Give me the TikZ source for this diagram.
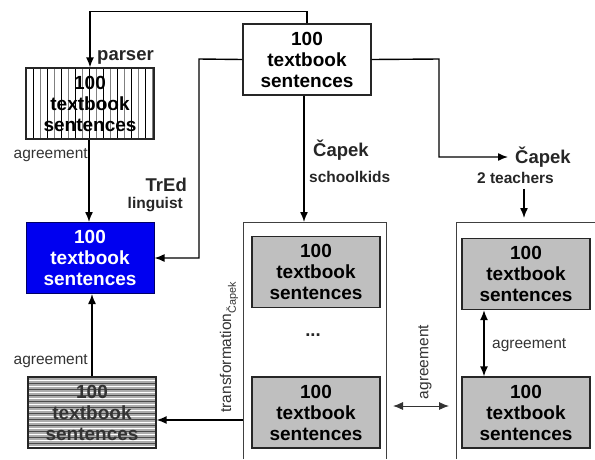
\documentclass[tikz,border=0pt]{standalone}
\usepackage{fontspec}
\setmainfont{Liberation Sans}
\usepackage{tikz}
\usetikzlibrary{arrows.meta}

\begin{document}
\begin{tikzpicture}[x=1pt,y=-1pt,
  sent/.style={draw=black!85, line width=1.3pt, minimum width=128, minimum height=71, inner sep=0, align=center, font=\bfseries\fontsize{19}{21}\selectfont},
  flow/.style={-{Latex[length=10pt,width=8pt]}, line width=1.4pt},
  both/.style={{Latex[length=10pt,width=8pt]}-{Latex[length=10pt,width=8pt]}},
  lbl/.style={text=black!80, font=\fontsize{15.5}{18}\selectfont, inner sep=0},
  tool/.style={text=black!85, font=\bfseries\fontsize{18.5}{21}\selectfont, inner sep=0},
  who/.style={text=black!85, font=\bfseries\fontsize{15.5}{18}\selectfont, inner sep=0}]
\useasboundingbox (0,0) rectangle (595,459);

% boxes
\node[sent] (src) at (307,59.5) {100\\textbook\\sentences};
\node[sent, path picture={
    \foreach \i in {7,21,...,126} \draw[black, line width=.8pt] ([xshift=\i]path picture bounding box.north west) -- ([xshift=\i]path picture bounding box.south west);
    \foreach \i in {14,28,...,126} \draw[gray, line width=.8pt] ([xshift=\i]path picture bounding box.north west) -- ([xshift=\i]path picture bounding box.south west);
  }] (parsed) at (90,103.5) {100\\textbook\\sentences};
\node[sent, fill=blue!94!black, draw=blue!40!black, line width=1pt, text=white] (gold) at (90,258) {100\\textbook\\sentences};
\node[sent, fill=gray!65, text=black!80, path picture={
    \foreach \i in {3,9,...,72} \draw[white, line width=1pt] ([yshift=-\i]path picture bounding box.north west) -- ([yshift=-\i]path picture bounding box.north east);
    \foreach \i in {6,12,...,72} \draw[black!70, line width=.4pt] ([yshift=-\i]path picture bounding box.north west) -- ([yshift=-\i]path picture bounding box.north east);
  }] (merged) at (92,412.5) {100\\textbook\\sentences};

\node[sent, fill=gray!50] (kid1) at (316,272) {100\\textbook\\sentences};
\node[sent, fill=gray!50] (kid2) at (316,412.5) {100\\textbook\\sentences};
\node[tool] (dots) at (313,335) {...};
\node[sent, fill=gray!50] (tea1) at (526,274) {100\\textbook\\sentences};
\node[sent, fill=gray!50] (tea2) at (526,412.5) {100\\textbook\\sentences};

% groups of annotators
\draw[black!75, line width=.8pt] (243,459) -- (243,222) -- (386,222) -- (386,459);
\draw[black!75, line width=.8pt] (456,459) -- (456,222) -- (595,222);

% labels
\node[tool, anchor=west] (parser) at (97,57) {parser};
\node[tool, anchor=east] (tred) at (187,185) {TrEd};
\node[who, anchor=east] (linguist) at (183,205) {linguist};
\node[tool, anchor=west] (capS) at (313,150) {Čapek};
\node[who, anchor=west] (kids) at (309,177) {schoolkids};
\node[tool, anchor=west] (capT) at (515,157) {Čapek};
\node[who] (teachers) at (515.5,178) {2 teachers};
\node[lbl, anchor=east] (agr1) at (88,155) {agreement};
\node[lbl, anchor=east] (agr2) at (88,361) {agreement};
\node[lbl, anchor=west] (agr3) at (492,345) {agreement};
\node[lbl, rotate=90] (agr4) at (425,362) {agreement};
\node[lbl, rotate=90] (trans) at (229,347) {transformation\textsubscript{Čapek}};

\coordinate (tredbend) at (199,59);
\coordinate (teabend) at (439,59);
\coordinate (c1top) at (304,222);
\coordinate (c2top) at (524,218);
\coordinate (c1left) at (243,420);
\coordinate (agrL) at (393,406);
\coordinate (agrR) at (449,406);

% connectors
\draw[flow] (src.north) -- ++(0,-12) -| (parsed.north);
\draw[flow] (src.west) -- (tredbend) |- (gold.east);
\draw[flow] (src.south -| c1top) -- (c1top);
\draw[flow] (src.east) -- (teabend) |- ([xshift=-7]capT.west);
\draw[flow] (teachers.south -| c2top) ++(0,5) -- (c2top);
\draw[flow] (parsed.south -| 89,0) -- (gold.north -| 89,0);
\draw[flow] (merged.north) -- (merged.north |- gold.south);
\draw[flow] (c1left) -- (merged.east |- c1left);
\draw[both, line width=.9pt, black!80] (agrL) -- (agrR);
\draw[both, line width=1.4pt] ([xshift=-42]tea1.south) -- ([xshift=-42]tea2.north);
\end{tikzpicture}
\end{document}
